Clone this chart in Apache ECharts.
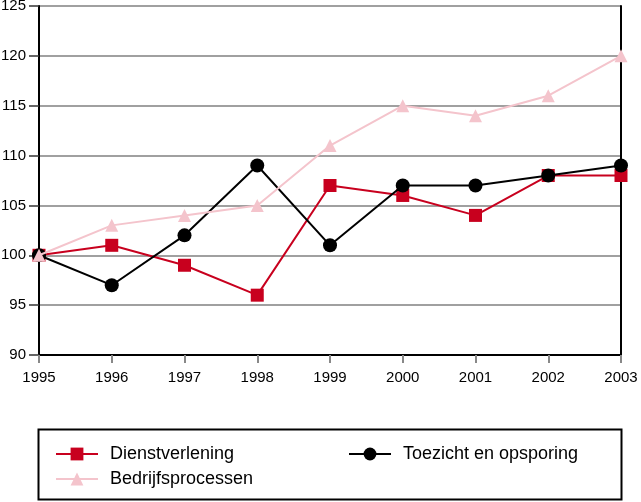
<!DOCTYPE html>
<html><head><meta charset="utf-8">
<script src="https://cdn.jsdelivr.net/npm/echarts@6/dist/echarts.min.js"></script>
<style>html,body{margin:0;padding:0;background:#fff}#c{width:641px;height:502px}</style>
</head><body><div id="c"></div>
<script>
const years = ['1995','1996','1997','1998','1999','2000','2001','2002','2003'];
const dienstverlening = [100, 101, 99, 96, 107, 106, 104, 108, 108];
const toezicht = [100, 97, 102, 109, 101, 107, 107, 108, 109];
const bedrijfsprocessen = [100, 103, 104, 105, 111, 115, 114, 116, 120];
const yTicks = {min: 90, max: 125, interval: 5};

const FONT = 'Liberation Sans, Arial, sans-serif';
const chart = echarts.init(document.getElementById('c'));
const legendCommon = {
  orient: 'horizontal', itemWidth: 42, itemHeight: 16, itemGap: 0, padding: 0,
  textStyle: {fontFamily: FONT, fontSize: 18, color: '#000', padding: [0,0,0,7]},
  selectedMode: false
};
chart.setOption({
  animation: false,
  grid: {left: 39, right: 20, top: 6, bottom: 147, containLabel: false, outerBoundsMode: 'none'},
  xAxis: {
    type: 'category', data: years, boundaryGap: false,
    axisLine: {lineStyle: {color: '#000', width: 2}},
    axisTick: {show: true, length: 8, lineStyle: {color: '#888', width: 2}},
    axisLabel: {fontFamily: FONT, fontSize: 15, color: '#000', margin: 15},
    splitLine: {show: false}
  },
  yAxis: [{
    type: 'value', min: yTicks.min, max: yTicks.max, interval: yTicks.interval,
    axisLine: {show: true, lineStyle: {color: '#000', width: 2}},
    axisTick: {show: true, length: 10, lineStyle: {color: '#333', width: 1.5}},
    axisLabel: {fontFamily: FONT, fontSize: 15, color: '#000', margin: 13},
    splitLine: {show: true, lineStyle: {color: '#808080', width: 1.5}}
  }, {
    type: 'value', min: yTicks.min, max: yTicks.max, interval: yTicks.interval, position: 'right',
    axisLine: {show: true, lineStyle: {color: '#000', width: 2}},
    axisTick: {show: false}, axisLabel: {show: false}, splitLine: {show: false}
  }],
  legend: [
    Object.assign({}, legendCommon, {left: 55, top: 445, data: ['Dienstverlening']}),
    Object.assign({}, legendCommon, {left: 348, top: 445, data: ['Toezicht en opsporing']}),
    Object.assign({}, legendCommon, {left: 55, top: 470, data: ['Bedrijfsprocessen']})
  ],
  graphic: [{
    type: 'rect', shape: {x: 38.5, y: 429.5, width: 583, height: 70},
    style: {fill: 'none', stroke: '#000', lineWidth: 2}, silent: true
  }],
  series: [
    {name: 'Dienstverlening', type: 'line', data: dienstverlening, z: 3,
     symbol: 'rect', symbolSize: 13, showAllSymbol: true,
     lineStyle: {color: '#c8001e', width: 2}, itemStyle: {color: '#c8001e'}},
    {name: 'Toezicht en opsporing', type: 'line', data: toezicht, z: 4,
     symbol: 'circle', symbolSize: 14, showAllSymbol: true,
     lineStyle: {color: '#000', width: 2}, itemStyle: {color: '#000'}},
    {name: 'Bedrijfsprocessen', type: 'line', data: bedrijfsprocessen, z: 5,
     symbol: 'triangle', symbolSize: 13, showAllSymbol: true,
     lineStyle: {color: '#f4c4cc', width: 2}, itemStyle: {color: '#f4c4cc'}}
  ]
});
</script></body></html>
